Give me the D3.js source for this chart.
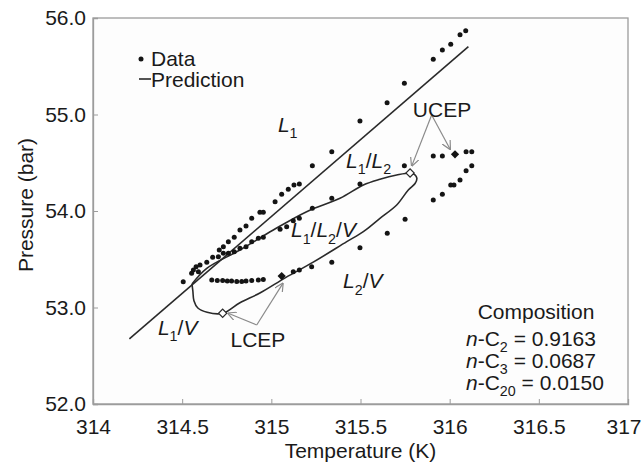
<!DOCTYPE html>
<html>
<head>
<meta charset="utf-8">
<script src="https://cdn.jsdelivr.net/npm/d3@7"></script>
<style>
  body { margin: 0; background: #fff; }
  text { font-family: "Liberation Sans", Arial, Helvetica, sans-serif; fill: #1a1a1a; }
</style>
</head>
<body>
<div id="chart"></div>
<script>
// ---- data: [temperature K, pressure bar] ----
let dataUpper = [
  [314.506, 53.267], [314.553, 53.354], [314.578, 53.423], [314.600, 53.440],
  [314.638, 53.468], [314.671, 53.520], [314.708, 53.596], [314.731, 53.630],
  [314.759, 53.682], [314.792, 53.728], [314.824, 53.803], [314.858, 53.845],
  [314.890, 53.924], [314.936, 53.986], [314.955, 53.986], [315.021, 54.096],
  [315.058, 54.173], [315.095, 54.225], [315.127, 54.269], [315.157, 54.280],
  [315.230, 54.469], [315.339, 54.615], [315.497, 54.933], [315.649, 55.122],
  [315.746, 55.323], [315.908, 55.572], [315.959, 55.668], [316.006, 55.727],
  [316.058, 55.827], [316.090, 55.868]
];
let dataMiddle = [
  [314.563, 53.389], [314.591, 53.371], [314.703, 53.527], [314.731, 53.562],
  [314.759, 53.562], [314.792, 53.578], [314.824, 53.613], [314.858, 53.630],
  [314.890, 53.682], [314.927, 53.717], [314.955, 53.728], [315.049, 53.810],
  [315.086, 53.837], [315.123, 53.899], [315.157, 53.924], [315.230, 54.028],
  [315.339, 54.132], [315.497, 54.280], [315.746, 54.469]
];
let dataRow = [
  [314.666, 53.285], [314.697, 53.280], [314.727, 53.280], [314.753, 53.275],
  [314.777, 53.275], [314.806, 53.270], [314.834, 53.270], [314.858, 53.275],
  [314.890, 53.280], [314.927, 53.285], [314.955, 53.290]
];
let dataLower = [
  [315.123, 53.371], [315.157, 53.389], [315.226, 53.423], [315.339, 53.468],
  [315.497, 53.620], [315.650, 53.769], [315.750, 53.914]
];
let dataRight = [
  [315.908, 54.570], [315.959, 54.570], [316.092, 54.615], [316.124, 54.615],
  [316.124, 54.469], [316.092, 54.418], [316.058, 54.321], [316.024, 54.269],
  [316.006, 54.269], [315.959, 54.173], [315.908, 54.114]
];

// prediction: L1 boundary line and the three-phase loop
let predLine = [[314.204, 52.674], [316.105, 55.703]];
let predLoop = [
  [314.555, 53.244], [314.638, 53.406], [314.824, 53.596], [315.011, 53.803],
  [315.198, 53.993], [315.385, 54.132], [315.516, 54.269], [315.609, 54.328],
  [315.703, 54.373], [315.778, 54.394], [315.804, 54.378], [315.816, 54.340],
  [315.806, 54.285], [315.768, 54.218], [315.703, 54.062], [315.609, 53.924],
  [315.516, 53.786], [315.423, 53.682], [315.235, 53.470], [315.080, 53.310],
  [314.936, 53.150], [314.824, 53.050], [314.727, 52.940], [314.640, 52.950],
  [314.588, 52.995], [314.566, 53.070], [314.560, 53.170], [314.555, 53.244]
];

// critical end points
let cepData = [[316.030, 54.588], [315.058, 53.326]];
let cepPred = [[315.778, 54.394], [314.727, 52.940]];

let xTicks = [314, 314.5, 315, 315.5, 316, 316.5, 317];
let yTicks = [52, 53, 54, 55, 56];

// ---- layout ----
let width = 644;
let height = 464;
let margin = { top: 18, right: 16, bottom: 60, left: 93 };

let svg = d3.select("#chart")
  .append("svg")
  .attr("width", width)
  .attr("height", height);

let xScale = d3.scaleLinear()
  .domain([314, 317])
  .range([margin.left, width - margin.right]);
let yScale = d3.scaleLinear()
  .domain([52, 56])
  .range([height - margin.bottom, margin.top]);

// plot frame
svg.append("rect")
  .attr("x", xScale(314))
  .attr("y", yScale(56))
  .attr("width", xScale(317) - xScale(314))
  .attr("height", yScale(52) - yScale(56))
  .attr("fill", "#fdfdfd")
  .attr("stroke", "#9c9c9c")
  .attr("stroke-width", 1.3);

// axes, ticks point inward
let xAxis = d3.axisBottom(xScale)
  .tickValues(xTicks)
  .tickSize(-5)
  .tickPadding(15)
  .tickFormat(d => d);
let yAxis = d3.axisLeft(yScale)
  .tickValues(yTicks)
  .tickSize(-5)
  .tickPadding(7)
  .tickFormat(d3.format(".1f"));

svg.append("g")
  .attr("class", "xAxis")
  .attr("transform", "translate(0," + yScale(52) + ")")
  .call(xAxis);
svg.append("g")
  .attr("class", "yAxis")
  .attr("transform", "translate(" + xScale(314) + ",0)")
  .call(yAxis);

svg.selectAll(".xAxis, .yAxis").selectAll(".domain").attr("stroke", "#9c9c9c").attr("stroke-width", 1.3);
svg.selectAll(".xAxis, .yAxis").selectAll(".tick line").attr("stroke", "#9c9c9c");
svg.selectAll(".xAxis, .yAxis").selectAll("text")
  .attr("font-size", 21)
  .attr("font-family", "Liberation Sans, Arial, sans-serif")
  .attr("fill", "#1a1a1a");

// last x label sits a little inside the page edge
svg.select(".xAxis").selectAll(".tick text")
  .filter(d => d === 317)
  .attr("text-anchor", "end")
  .attr("dx", 13);

// axis titles
svg.append("text")
  .attr("x", (xScale(314) + xScale(317)) / 2)
  .attr("y", 458)
  .attr("text-anchor", "middle")
  .attr("font-size", 21)
  .text("Temperature (K)");

svg.append("text")
  .attr("transform", "translate(33," + 205 + ")rotate(-90)")
  .attr("text-anchor", "middle")
  .attr("font-size", 21)
  .text("Pressure (bar)");

// ---- prediction lines ----
let line = d3.line()
  .x(d => xScale(d[0]))
  .y(d => yScale(d[1]))
  .curve(d3.curveCatmullRom.alpha(0.5));

svg.append("path")
  .datum(predLine)
  .attr("d", d3.line().x(d => xScale(d[0])).y(d => yScale(d[1])))
  .attr("fill", "none")
  .attr("stroke", "#2a2a2a")
  .attr("stroke-width", 1.6);

svg.append("path")
  .datum(predLoop)
  .attr("d", line)
  .attr("fill", "none")
  .attr("stroke", "#2a2a2a")
  .attr("stroke-width", 1.6);

// ---- data points ----
let allData = dataUpper.concat(dataMiddle, dataRow, dataLower, dataRight);
svg.selectAll("circle.pt")
  .data(allData)
  .enter()
  .append("circle")
  .attr("class", "pt")
  .attr("cx", d => xScale(d[0]))
  .attr("cy", d => yScale(d[1]))
  .attr("r", 2.5)
  .attr("fill", "#141414");

// diamonds
let diamond = d3.symbol().type(d3.symbolSquare).size(34);
svg.selectAll("path.cepData")
  .data(cepData)
  .enter()
  .append("path")
  .attr("class", "cepData")
  .attr("d", diamond)
  .attr("transform", d => "translate(" + xScale(d[0]) + "," + yScale(d[1]) + ")rotate(45)")
  .attr("fill", "#141414");

svg.selectAll("path.cepPred")
  .data(cepPred)
  .enter()
  .append("path")
  .attr("class", "cepPred")
  .attr("d", diamond)
  .attr("transform", d => "translate(" + xScale(d[0]) + "," + yScale(d[1]) + ")rotate(45)")
  .attr("fill", "#fff")
  .attr("stroke", "#2a2a2a")
  .attr("stroke-width", 1.2);

// ---- arrows to the critical end points ----
svg.append("defs").append("marker")
  .attr("id", "head")
  .attr("viewBox", "0 0 10 10")
  .attr("refX", 9)
  .attr("refY", 5)
  .attr("markerWidth", 9)
  .attr("markerHeight", 9)
  .attr("markerUnits", "userSpaceOnUse")
  .attr("orient", "auto")
  .append("path")
  .attr("d", "M0,0 L10,5 L0,10")
  .attr("fill", "none")
  .attr("stroke", "#8a8a8a")
  .attr("stroke-width", 1.3);

let arrows = [
  { from: [315.899, 54.994], to: [315.788, 54.470] },
  { from: [315.899, 54.994], to: [316.002, 54.642] },
  { from: [314.918, 52.819], to: [314.758, 52.940] },
  { from: [314.918, 52.819], to: [315.064, 53.248] }
];
svg.selectAll("line.arrow")
  .data(arrows)
  .enter()
  .append("line")
  .attr("class", "arrow")
  .attr("x1", d => xScale(d.from[0]))
  .attr("y1", d => yScale(d.from[1]))
  .attr("x2", d => xScale(d.to[0]))
  .attr("y2", d => yScale(d.to[1]))
  .attr("stroke", "#8a8a8a")
  .attr("stroke-width", 1.2)
  .attr("marker-end", "url(#head)");

svg.append("text")
  .attr("x", xScale(315.957))
  .attr("y", yScale(54.977))
  .attr("text-anchor", "middle")
  .attr("font-size", 21)
  .text("UCEP");

svg.append("text")
  .attr("x", xScale(314.925))
  .attr("y", yScale(52.591))
  .attr("text-anchor", "middle")
  .attr("font-size", 21)
  .text("LCEP");

// ---- phase region labels ----
// each part: [text, italic, subscript]
let regionLabels = [
  { at: [315.037, 54.819], parts: [["L", true, false], ["1", false, true]] },
  { at: [315.419, 54.446], parts: [["L", true, false], ["1", false, true], ["/", false, false], ["L", true, false], ["2", false, true]] },
  { at: [315.110, 53.727], parts: [["L", true, false], ["1", false, true], ["/", false, false], ["L", true, false], ["2", false, true], ["/", false, false], ["V", true, false]] },
  { at: [315.402, 53.200], parts: [["L", true, false], ["2", false, true], ["/", false, false], ["V", true, false]] },
  { at: [314.364, 52.715], parts: [["L", true, false], ["1", false, true], ["/", false, false], ["V", true, false]] }
];

function richText(sel, parts, size) {
  let shifted = false;
  parts.forEach(function(p) {
    let t = sel.append("tspan")
      .text(p[0])
      .attr("font-size", p[2] ? size * 0.68 : size)
      .attr("font-style", p[1] ? "italic" : "normal");
    if (p[2] && !shifted) { t.attr("dy", size * 0.3); shifted = true; }
    else if (!p[2] && shifted) { t.attr("dy", -size * 0.3); shifted = false; }
  });
}

regionLabels.forEach(function(l) {
  let t = svg.append("text")
    .attr("x", xScale(l.at[0]))
    .attr("y", yScale(l.at[1]));
  richText(t, l.parts, 21);
});

// ---- legend ----
svg.append("circle")
  .attr("cx", 141)
  .attr("cy", 59)
  .attr("r", 2.5)
  .attr("fill", "#141414");
svg.append("text")
  .attr("x", 151)
  .attr("y", 66)
  .attr("font-size", 21)
  .text("Data");
svg.append("line")
  .attr("x1", 139).attr("x2", 151)
  .attr("y1", 79).attr("y2", 79)
  .attr("stroke", "#2a2a2a")
  .attr("stroke-width", 1.6);
svg.append("text")
  .attr("x", 151)
  .attr("y", 87)
  .attr("font-size", 21)
  .text("Prediction");

// ---- composition box ----
let compNames = ["2", "3", "20"];
let compValues = ["0.9163", "0.0687", "0.0150"];

svg.append("text")
  .attr("x", 536)
  .attr("y", 319)
  .attr("text-anchor", "middle")
  .attr("font-size", 21)
  .text("Composition");

compNames.forEach(function(n, i) {
  let t = svg.append("text")
    .attr("x", 466)
    .attr("y", 346 + i * 22);
  richText(t, [["n", true, false], ["-C", false, false], [n, false, true], [" = " + compValues[i], false, false]], 21);
});
</script>
</body>
</html>
